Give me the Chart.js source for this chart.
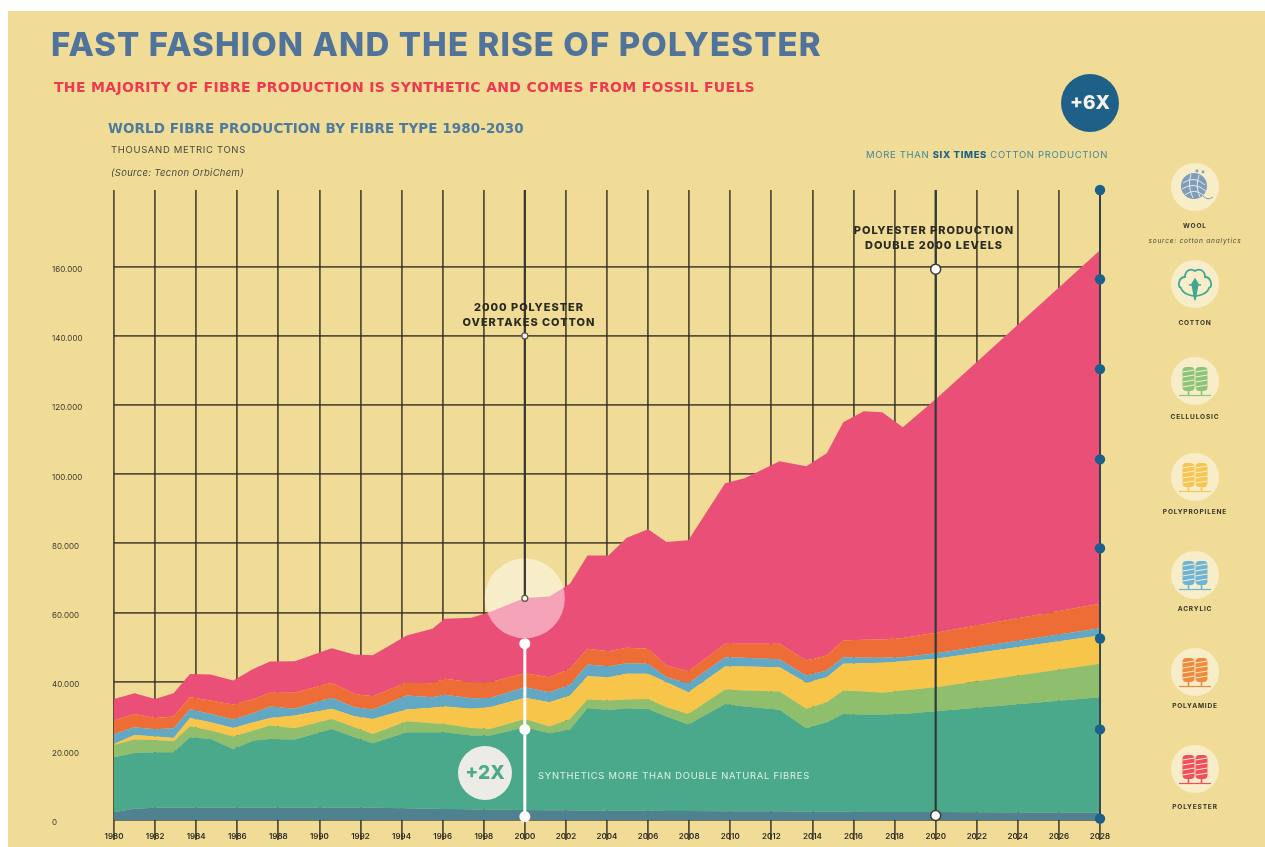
<!DOCTYPE html>
<html>
<head>
<meta charset="utf-8">
<title>Fast fashion and the rise of polyester</title>
<script src="https://cdn.jsdelivr.net/npm/chart.js@4"></script>
<style>
  html, body { margin: 0; padding: 0; background: #fff; }
  #page { position: relative; width: 1265px; height: 847px; overflow: hidden; font-family: Inter, sans-serif; }
  #panel { position: absolute; left: 8px; top: 11px; width: 1257px; height: 836px; background: #f0dc96; }
  canvas { position: absolute; left: 0; top: 0; }
  .t { position: absolute; white-space: nowrap; line-height: 1; }
  #title { left: 51px; top: 28px; font-size: 33px; font-weight: 800; color: #50739b; letter-spacing: 1.1px; }
  #sub { left: 54px; top: 80px; font-size: 14px; font-weight: 700; font-family: "DejaVu Sans", sans-serif; color: #ec3a52; letter-spacing: .32px; }
  #head { left: 108px; top: 122px; font-size: 13.5px; font-weight: 700; font-family: "DejaVu Sans", sans-serif; color: #4f7a9f; letter-spacing: .08px; }
  #unit { left: 111px; top: 145px; font-size: 9.5px; color: #4a4a3c; letter-spacing: .65px; }
  #source { left: 111px; top: 168px; font-size: 9.5px; font-style: italic; color: #4a4a3c; letter-spacing: .3px; }
  #six { left: 1061px; top: 74px; width: 58px; height: 58px; line-height: 58px; border-radius: 50%; background: #1f6089; color: #f3f3ee; font-size: 19px; font-weight: 800; text-align: center; }
  #sixnote { right: 157px; top: 150px; font-size: 9.5px; color: #3f8799; letter-spacing: .66px; }
  #sixnote b { color: #1f6089; font-weight: 800; }
  #two { left: 458px; top: 746px; width: 54px; height: 54px; line-height: 54px; border-radius: 50%; background: #ecebe6; color: #4aab8a; font-size: 19px; font-weight: 800; text-align: center; }
  #twonote { left: 538px; top: 771px; font-size: 9.4px; color: #dcf0e6; letter-spacing: .76px; }
  .call { font-size: 11px; font-weight: 800; color: #2b2a20; text-align: center; line-height: 15px; transform: translateX(-50%); letter-spacing: .95px; }
  .icon { position: absolute; left: 1171px; width: 48px; height: 48px; }
  .lab { left: 1195px; transform: translateX(-50%); font-size: 6.6px; font-weight: 700; color: #35342a; letter-spacing: .8px; }
  #woolsrc { left: 1195px; top: 238px; transform: translateX(-50%); font-size: 6.6px; font-style: italic; color: #4a4a3c; letter-spacing: .75px; }
</style>
</head>
<body>
<div id="page">
  <div id="panel"></div>
  <canvas id="chart" width="1265" height="847"></canvas>
  <div class="t" id="title">FAST FASHION AND THE RISE OF POLYESTER</div>
  <div class="t" id="sub">THE MAJORITY OF FIBRE PRODUCTION IS SYNTHETIC AND COMES FROM FOSSIL FUELS</div>
  <div class="t" id="head">WORLD FIBRE PRODUCTION BY FIBRE TYPE 1980-2030</div>
  <div class="t" id="unit">THOUSAND METRIC TONS</div>
  <div class="t" id="source">(Source: Tecnon OrbiChem)</div>
  <div class="t" id="six">+6X</div>
  <div class="t" id="sixnote">MORE THAN <b>SIX TIMES</b> COTTON PRODUCTION</div>
  <div class="t" id="two">+2X</div>
  <div class="t" id="twonote">SYNTHETICS MORE THAN DOUBLE NATURAL FIBRES</div>
  <div class="t call" style="left:529px;top:300px">2000 POLYESTER<br>OVERTAKES COTTON</div>
  <div class="t call" style="left:934px;top:223px">POLYESTER PRODUCTION<br>DOUBLE 2000 LEVELS</div>
  <div class="t" id="woolsrc">source: cotton analytics</div>
</div>

<script>
// knots, the source is not strictly annual
const years = [1980, 1981, 1982, 1982.9, 1983.7, 1984.7, 1985.8, 1986.8, 1987.6, 1988.8, 1990.6, 1991.7, 1992.6,
  1994.25, 1995.5, 1996.1, 1997.4, 1998.3, 2000, 2001.2, 2002.2, 2003.05, 2004.07, 2004.96, 2006, 2006.9, 2007.96,
  2009.75, 2010.7, 2012.4, 2013.7, 2014.7, 2015.5, 2016.5, 2017.4, 2018.4, 2020, 2028];

const wool = [2220, 3280, 3570, 3570, 3570, 3570, 3570, 3570, 3570, 3570, 3570, 3570, 3570,
  3380, 3280, 3180, 3090, 2990, 2900, 2800, 2800, 2700, 2700, 2700, 2700, 2610, 2610,
  2510, 2510, 2510, 2410, 2410, 2410, 2320, 2320, 2320, 2320, 2120];
const cotton = [15920, 16120, 16020, 16020, 20360, 19880, 16980, 19400, 19880, 19690, 22770, 20360, 18620,
  22000, 22100, 22200, 21330, 21420, 23930, 22290, 23350, 29720, 29140, 29630, 29430, 27310, 24990,
  31070, 30300, 29340, 24130, 25860, 28270, 28180, 28180, 28370, 29140, 33390];
const cellulosic = [3570, 3860, 3570, 3180, 3180, 2410, 3570, 2900, 3860, 3280, 2900, 2900, 2700,
  3180, 2610, 2410, 2220, 1930, 2410, 1930, 3090, 2410, 2700, 2510, 2900, 2700, 3090,
  4150, 4630, 5310, 5600, 5790, 6760, 6660, 6270, 6760, 6950, 9650];
const polypropylene = [290, 1350, 965, 965, 2410, 2410, 2510, 2410, 2220, 3670, 2900, 3180, 4340,
  3380, 4440, 5020, 5500, 6270, 6080, 7040, 6760, 6760, 6760, 7430, 7240, 7240, 6270,
  6660, 6950, 7040, 7530, 7240, 7720, 8200, 8690, 8490, 8200, 8200];
const acrylic = [2900, 2220, 2120, 2800, 2510, 2410, 2410, 2700, 3280, 1930, 3180, 2610, 2700,
  4050, 3090, 3380, 3090, 2700, 3090, 2900, 3090, 3380, 3180, 3090, 2900, 1450, 2610,
  2700, 2510, 2320, 2120, 1930, 1930, 1540, 1450, 1160, 1640, 2120];
const polyamide = [3860, 3860, 3280, 3380, 3470, 3860, 4340, 4050, 3960, 4630, 4340, 3860, 3860,
  3860, 4050, 4630, 4630, 4540, 4050, 4340, 4630, 4540, 4340, 4440, 4340, 3380, 3470,
  3860, 4050, 4440, 4340, 4340, 4830, 5210, 5310, 5500, 5890, 7040];
const polyester = [6270, 5980, 5500, 6760, 6760, 7530, 6950, 8690, 9070, 9170, 10040, 11390, 11870,
  13510, 15730, 17370, 18620, 20270, 21710, 23350, 24610, 27020, 27700, 31850, 34550, 35710, 37830,
  46420, 47860, 52790, 56160, 58480, 63110, 66100, 65720, 60990, 67550, 102290];

// bottom of the stack first
const fibres = [wool, cotton, cellulosic, polypropylene, acrylic, polyamide, polyester];
const fibreNames = ['Wool', 'Cotton', 'Cellulosic', 'Polypropilene', 'Acrylic', 'Polyamide', 'Polyester'];
const fibreColors = ['#4f8291', '#4aa98a', '#8fbe6c', '#f7c54a', '#62a8c4', '#ee6d36', '#ea4f78'];

// axis ticks
const yTickValues = [0, 20000, 40000, 60000, 80000, 100000, 120000, 140000, 160000];
const yTickLabels = ['0', '20.000', '40.000', '60.000', '80.000', '100.000', '120.000', '140.000', '160.000'];

// markers on the annotation lines, thousand tons
const yTop = 182200;
const overtakeYear = 2000;
const overtakeDots = [140000, 64100];
const overtakeWhite = [51000, 26200, 1000];
const doubleYear = 2020;
const doubleDots = [159300, 1300];
const sideDots = [182200, 156400, 130400, 104300, 78600, 52500, 26200, 400];

// legend, top to bottom
const legendNames = ['WOOL', 'COTTON', 'CELLULOSIC', 'POLYPROPILENE', 'ACRYLIC', 'POLYAMIDE', 'POLYESTER'];
const legendColors = ['#7f9db8', '#3fa794', '#8cc47a', '#f6c552', '#6eb4d8', '#ef8a3c', '#ef4e5e'];

const gridColor = 'rgba(45, 42, 28, 0.78)';

const annotations = {
  id: 'annotations',
  afterDatasetsDraw(chart) {
    const { ctx, scales: { x, y } } = chart;
    const dot = (px, py, r, fill, stroke, lw) => {
      ctx.beginPath();
      ctx.arc(px, py, r, 0, Math.PI * 2);
      ctx.fillStyle = fill;
      ctx.fill();
      if (stroke) {
        ctx.strokeStyle = stroke;
        ctx.lineWidth = lw;
        ctx.stroke();
      }
    };
    const vline = (year, from, to, color, width) => {
      ctx.beginPath();
      ctx.moveTo(x.getPixelForValue(year), y.getPixelForValue(from));
      ctx.lineTo(x.getPixelForValue(year), y.getPixelForValue(to));
      ctx.strokeStyle = color;
      ctx.lineWidth = width;
      ctx.stroke();
    };

    ctx.save();
    // 2000: polyester overtakes cotton
    const ox = x.getPixelForValue(overtakeYear);
    dot(ox, y.getPixelForValue(overtakeDots[1]), 40, 'rgba(255, 255, 255, 0.48)');
    vline(overtakeYear, yTop, overtakeDots[1], '#37372f', 2.2);
    overtakeDots.forEach(v => dot(ox, y.getPixelForValue(v), 3, '#f7f3e2', '#55554c', 1.2));
    vline(overtakeYear, overtakeWhite[0], overtakeWhite[2], '#ffffff', 3);
    overtakeWhite.forEach(v => dot(ox, y.getPixelForValue(v), 5.5, '#ffffff'));

    // 2020: polyester doubles
    const dx = x.getPixelForValue(doubleYear);
    vline(doubleYear, yTop, doubleDots[1], '#2c3c3a', 2.2);
    doubleDots.forEach(v => dot(dx, y.getPixelForValue(v), 5, '#ffffff', '#3b3b33', 1.5));

    // right hand edge
    const rx = x.getPixelForValue(2028);
    vline(2028, yTop, 0, '#2c3f4c', 1.8);
    sideDots.forEach(v => dot(rx, y.getPixelForValue(v), 5.2, '#1c5f8b'));
    ctx.restore();
  }
};

new Chart(document.getElementById('chart').getContext('2d'), {
  type: 'line',
  data: {
    datasets: fibres.map((values, i) => ({
      label: fibreNames[i],
      data: values.map((v, j) => ({ x: years[j], y: v })),
      backgroundColor: fibreColors[i],
      borderWidth: 0,
      pointRadius: 0,
      tension: 0,
      fill: i === 0 ? 'origin' : '-1'
    }))
  },
  options: {
    responsive: false,
    animation: false,
    events: [],
    layout: { autoPadding: false, padding: { left: 52, top: 190, right: 165, bottom: 0 } },
    plugins: { legend: { display: false }, tooltip: { enabled: false } },
    scales: {
      x: {
        type: 'linear',
        min: 1980,
        max: 2028,
        afterFit(scale) { scale.height = 27; },
        border: { display: false },
        grid: { color: gridColor, tickColor: gridColor, lineWidth: 1.8, tickLength: 20 },
        ticks: {
          stepSize: 2,
          maxRotation: 0,
          autoSkip: false,
          padding: -8,
          color: '#2b2a20',
          font: { family: 'Inter', size: 8, weight: '600' },
          callback: v => String(v)
        }
      },
      y: {
        stacked: true,
        min: 0,
        max: yTop,
        afterFit(scale) { scale.width = 62; },
        afterBuildTicks(scale) { scale.ticks = yTickValues.map(value => ({ value })); },
        border: { display: false },
        grid: { color: gridColor, lineWidth: 1.8, drawTicks: false },
        ticks: {
          crossAlign: 'far',
          padding: 0,
          labelOffset: 3,
          color: '#3a392e',
          font: { family: 'Inter', size: 8 },
          callback: (v, i) => yTickLabels[i]
        }
      }
    }
  },
  plugins: [annotations]
});

// legend icons, plain svg
const iconCentres = [187, 284, 381, 477, 575, 672, 769];
const labelTops = [223, 320, 414, 509, 606, 703, 804];

function spool(cx, color) {
  let stripes = '';
  for (const dy of [14, 19, 24, 29]) {
    stripes += `<path d="M${cx - 6} ${dy + 1}L${cx + 6} ${dy - 1}" stroke="#f7edc8" stroke-width="1.1"/>`;
  }
  return `<rect x="${cx - 6}" y="10" width="12" height="24" rx="4" fill="${color}"/>${stripes}` +
    `<path d="M${cx} 34V38" stroke="${color}" stroke-width="1.6"/>`;
}

function iconBody(i, color) {
  if (i === 0) {
    return `<circle cx="23" cy="23" r="13" fill="${color}"/>` +
      `<path d="M12 20Q23 12 34 22M11 26Q23 18 35 28M14 32Q24 24 33 33M20 11Q16 23 22 35M28 12Q24 24 29 34" stroke="#e6ebe6" stroke-width="1" fill="none"/>` +
      `<path d="M32 33Q37 38 42 34" stroke="${color}" stroke-width="1" fill="none"/>` +
      `<circle cx="26" cy="8" r="1.4" fill="${color}"/><circle cx="32" cy="9" r="1.4" fill="${color}"/>`;
  }
  if (i === 1) {
    return `<path d="M24 36C20 36 12 34 10 28C6 26 8 17 14 17C14 10 20 8 24 11C28 8 34 10 34 17C40 17 42 26 38 28C36 34 28 36 24 36Z" fill="none" stroke="${color}" stroke-width="1.8"/>` +
      `<path d="M24 19L27 24L24 40L21 24ZM18 25H30" fill="${color}" stroke="${color}" stroke-width="1.4"/>`;
  }
  return spool(17.5, color) + spool(30.5, color) +
    `<path d="M8 38.5H40" stroke="${color}" stroke-width="1.2"/>`;
}

const page = document.getElementById('page');
legendNames.forEach((name, i) => {
  page.insertAdjacentHTML('beforeend',
    `<svg class="icon" style="top:${iconCentres[i] - 24}px" viewBox="0 0 48 48">` +
    `<circle cx="24" cy="24" r="24" fill="#f7edc8"/>${iconBody(i, legendColors[i])}</svg>` +
    `<div class="t lab" style="top:${labelTops[i]}px">${name}</div>`);
});
</script>
</body>
</html>
